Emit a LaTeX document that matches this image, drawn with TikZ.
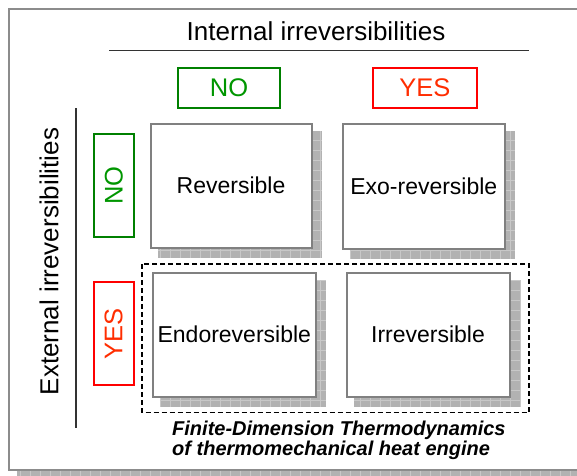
\documentclass[tikz,border=0pt]{standalone}
\usepackage{fontspec}
\setmainfont{Liberation Sans}
\usetikzlibrary{calc,backgrounds}
\definecolor{grnline}{RGB}{0,128,0}
\definecolor{grntext}{RGB}{0,150,0}
\definecolor{redline}{RGB}{255,0,0}
\definecolor{redtext}{RGB}{255,45,0}
\definecolor{boxgray}{RGB}{128,128,128}
\definecolor{framegray}{RGB}{140,140,140}
\definecolor{shadowgray}{RGB}{178,178,178}
\definecolor{gridgray}{RGB}{200,200,200}
\newcommand\myshade[1]{%
  \fill[shadowgray] ($(#1.north west)+(8,8)$) rectangle ($(#1.south east)+(9.5,9)$);
  \draw[gridgray,line width=0.45pt,step=10pt] ($(#1.north west)+(8,8)$) grid ($(#1.south east)+(9.5,9)$);
}
\begin{document}
\begin{tikzpicture}[x=1pt,y=-1pt,
  cell/.style={draw=boxgray,line width=2pt,fill=white,inner sep=0pt,
    font=\fontsize{23}{27}\selectfont},
  grnbox/.style={draw=grnline,line width=2pt,fill=white,inner sep=0pt,text=grntext,
    font=\fontsize{25.5}{29}\selectfont},
  redbox/.style={draw=redline,line width=2pt,fill=white,inner sep=0pt,text=redtext,
    font=\fontsize{25.5}{29}\selectfont},
  axislabel/.style={font=\fontsize{26}{30}\selectfont,inner sep=0pt},
  axisline/.style={line width=1.3pt,color=black!80},
  caption/.style={font=\fontsize{20}{22}\selectfont\bfseries\itshape,inner sep=0pt,anchor=base west}]
\useasboundingbox (0,0) rectangle (577,475);

% axis titles and lines
\node[axislabel,anchor=base] (title) at (316,40) {Internal irreversibilities};
\coordinate (hl) at (109,50.5);
\coordinate (hr) at (529,50.5);
\draw[axisline] (hl) -- (hr);
\node[axislabel,anchor=base,rotate=90] (ext) at (58.3,261.5) {External irreversibilities};
\coordinate (vt) at (76,108);
\coordinate (vb) at (76,428);
\draw[axisline] (vt) -- (vb);

% column labels
\node[grnbox,minimum width=102,minimum height=40] (colno) at (229,87.8) {NO};
\node[redbox,minimum width=104,minimum height=40] (colyes) at (424.8,87.8) {YES};
% row labels
\node[grnbox,rotate=90,minimum width=103,minimum height=40] (rowno) at (113.8,185.3) {NO};
\node[redbox,rotate=90,minimum width=103,minimum height=40] (rowyes) at (113.6,333.5) {YES};

% dashed group
\coordinate (dtl) at (142,264);
\coordinate (dbr) at (529,412.5);
\draw[black,line width=1.1pt,dash pattern=on 5pt off 3pt] (dtl) rectangle (dbr);

% cells
\node[cell,minimum width=161,minimum height=124] (rev) at (231,185.5) {Reversible};
\node[cell,minimum width=162,minimum height=125] (exo) at (423.8,186) {Exo-reversible};
\node[cell,minimum width=163,minimum height=124] (endo) at (234.3,334.5) {Endoreversible};
\node[cell,minimum width=163,minimum height=124] (irr) at (428,334.5) {Irreversible};

% caption
\node[caption] (cap1) at (172,435) {Finite-Dimension Thermodynamics};
\node[caption] (cap2) at (172,455.5) {of thermomechanical heat engine};

\begin{scope}[on background layer]
  % outer frame with shadow
  \fill[shadowgray] (17,17) rectangle (600,478);
  \draw[gridgray,line width=0.45pt,step=10pt] (17,17) grid (600,478);
  \draw[framegray,line width=2pt,fill=white] (9,9) rectangle (592,470);
  \myshade{rev}
  \myshade{exo}
  \myshade{endo}
  \myshade{irr}
\end{scope}
\end{tikzpicture}
\end{document}
